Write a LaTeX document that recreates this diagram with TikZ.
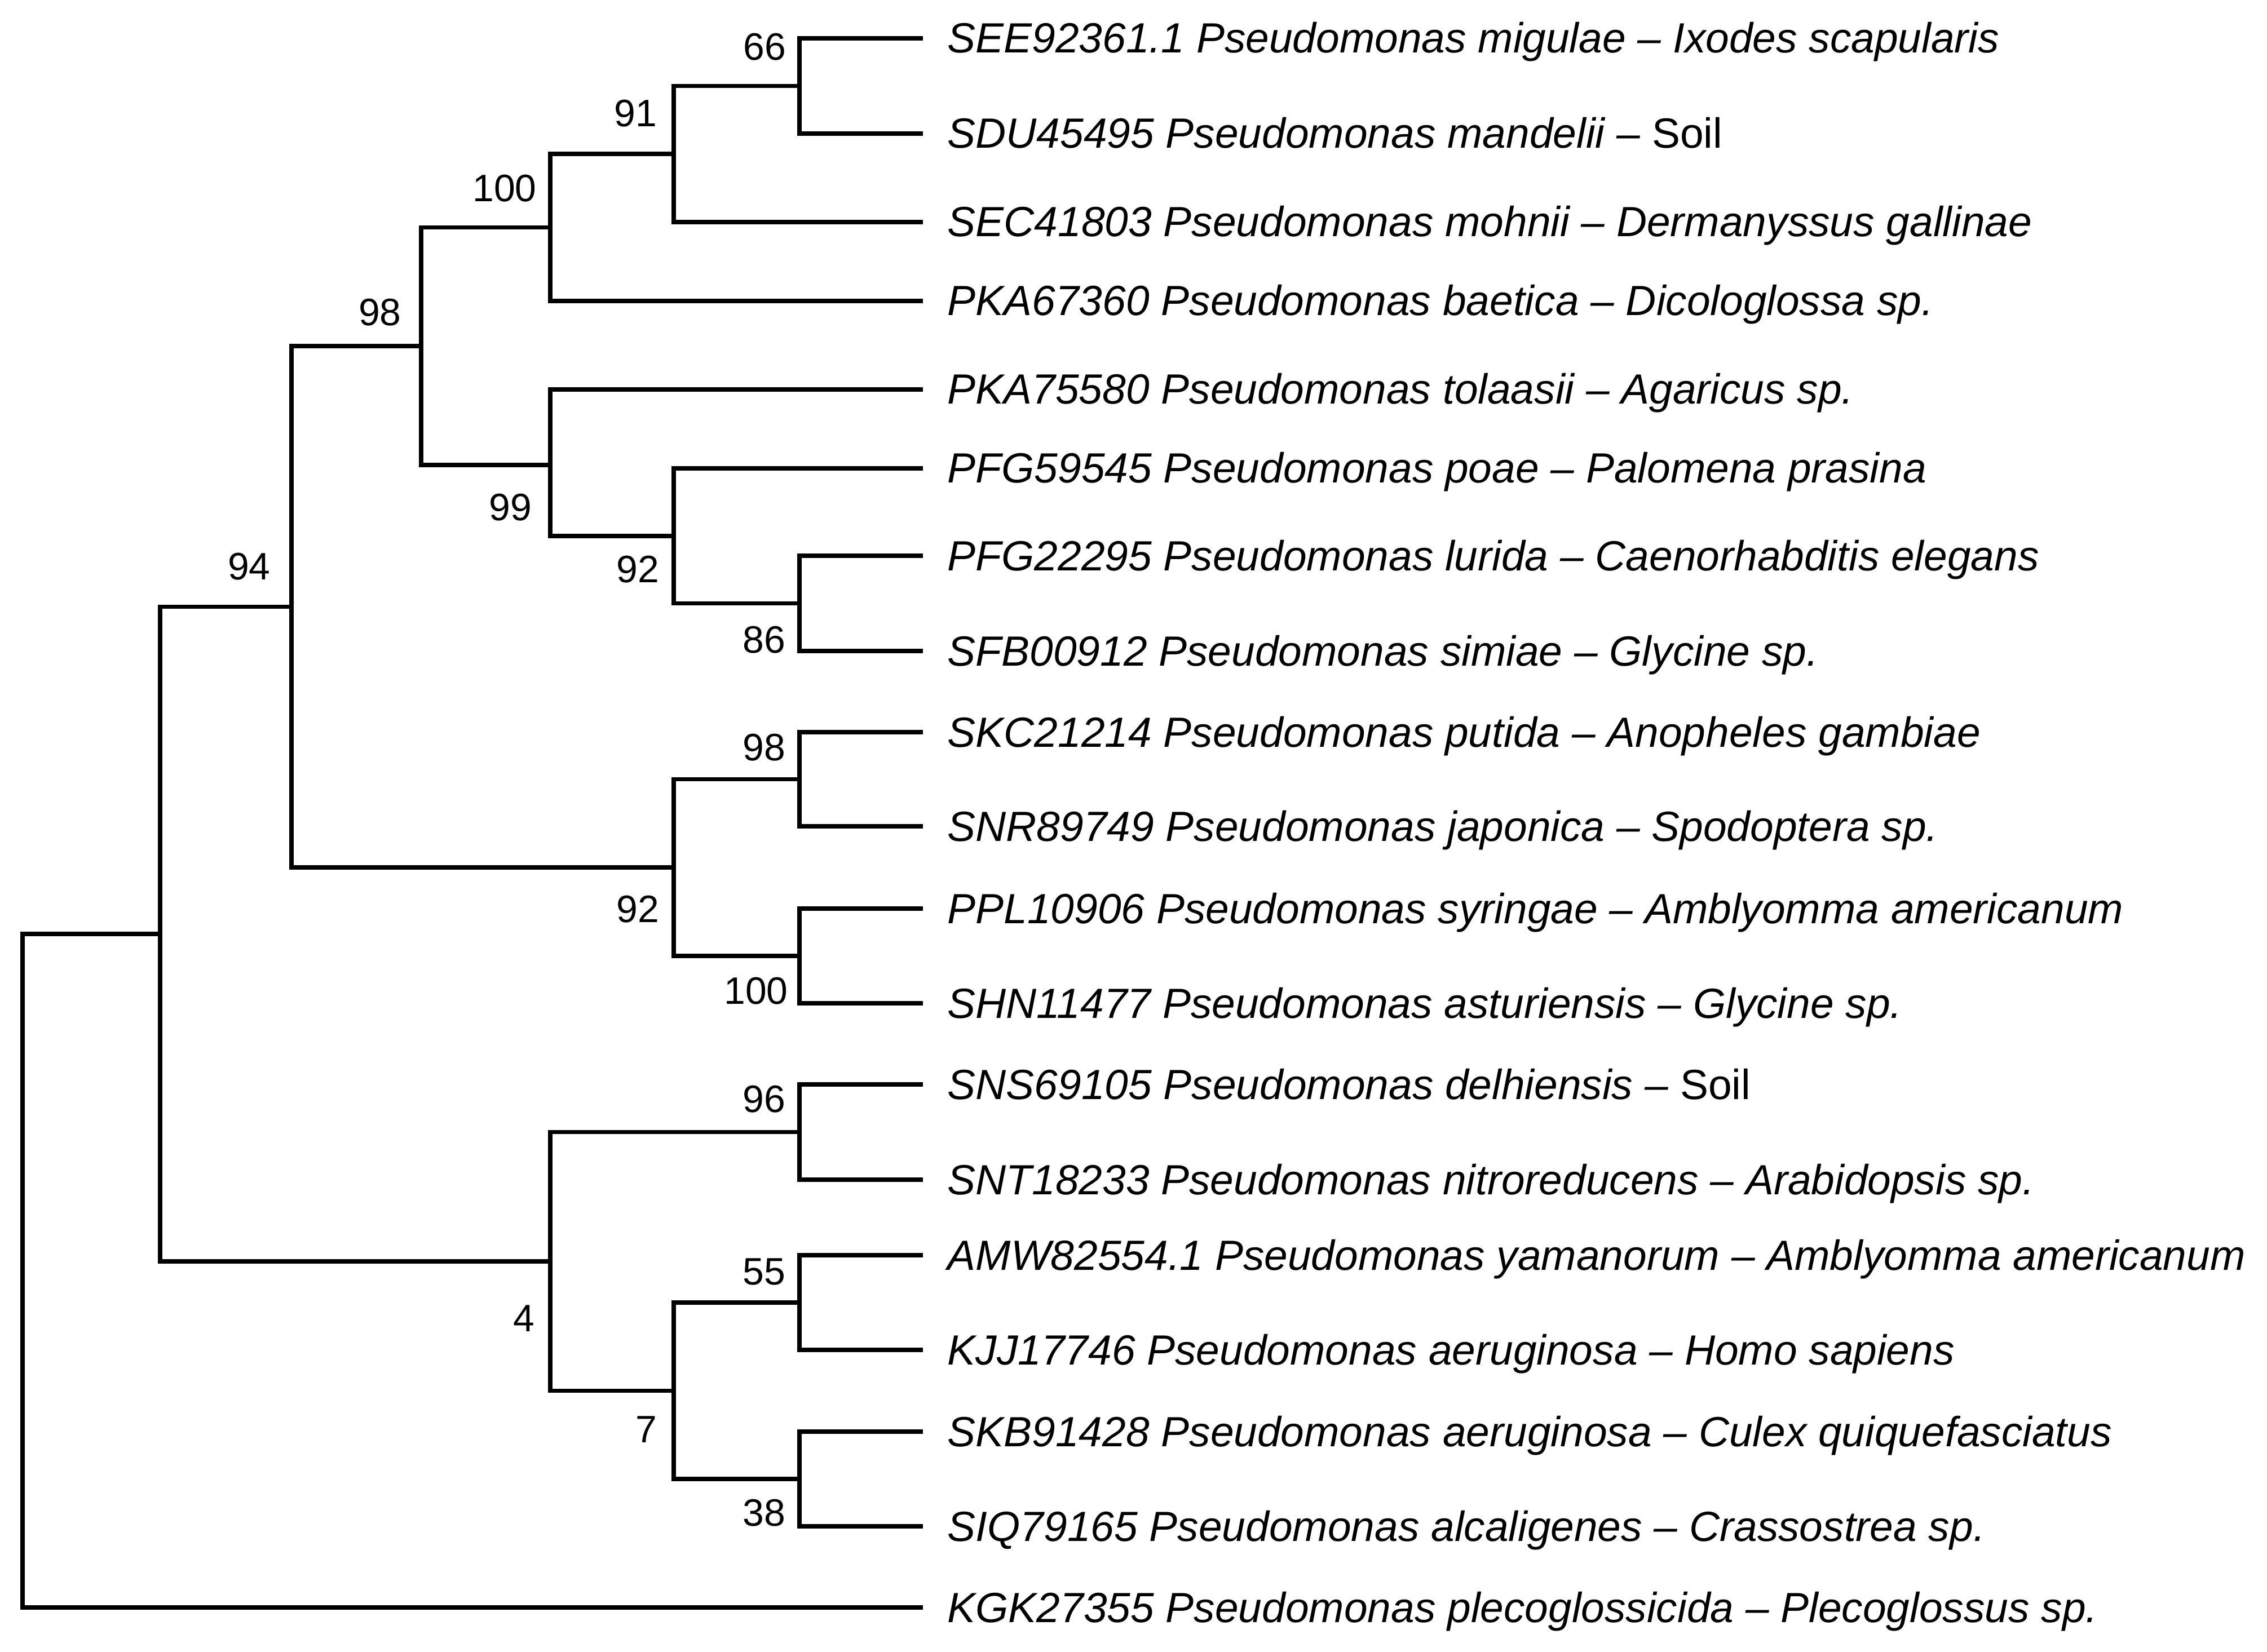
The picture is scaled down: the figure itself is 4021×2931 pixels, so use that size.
\documentclass[tikz,border=0pt]{standalone}
\usepackage{fontspec}
\setmainfont{Liberation Sans}
\begin{document}
\begin{tikzpicture}[x=0.01cm,y=-0.01cm,
  branch/.style={line width=2.2pt, line join=miter},
  leaf/.style={anchor=base west, inner sep=0pt, font=\fontsize{21.3}{24}\selectfont\itshape},
  boot/.style={anchor=center, inner sep=0pt, font=\fontsize{19.3}{22}\selectfont}]
\useasboundingbox (0,0) rectangle (4021,2931);
% leaf tips
\coordinate (l1) at (1637,68);
\coordinate (l2) at (1637,237);
\coordinate (l3) at (1637,394);
\coordinate (l4) at (1637,534);
\coordinate (l5) at (1637,691);
\coordinate (l6) at (1637,831);
\coordinate (l7) at (1637,986);
\coordinate (l8) at (1637,1155);
\coordinate (l9) at (1637,1299);
\coordinate (l10) at (1637,1466);
\coordinate (l11) at (1637,1612);
\coordinate (l12) at (1637,1780);
\coordinate (l13) at (1637,1924);
\coordinate (l14) at (1637,2093);
\coordinate (l15) at (1637,2227);
\coordinate (l16) at (1637,2395);
\coordinate (l17) at (1637,2540);
\coordinate (l18) at (1637,2708);
\coordinate (l19) at (1637,2852);
% internal nodes
\coordinate (root) at (40,2254.5);
\coordinate (A) at (284,1657);
\coordinate (B) at (517,1076.5);
\coordinate (C) at (747,614);
\coordinate (D) at (976,403.5);
\coordinate (E) at (1195,273);
\coordinate (F) at (1418,152.5);
\coordinate (G) at (976,825);
\coordinate (H) at (1195,951);
\coordinate (I) at (1418,1070.5);
\coordinate (J) at (1195,1539);
\coordinate (K) at (1418,1382.5);
\coordinate (L) at (1418,1696);
\coordinate (M) at (976,2238);
\coordinate (N) at (1418,2008.5);
\coordinate (O) at (1195,2467.5);
\coordinate (P) at (1418,2311);
\coordinate (Q) at (1418,2624);
% branches
\draw[branch] (l1) -| (F) |- (l2);
\draw[branch] (F) -| (E) |- (l3);
\draw[branch] (E) -| (D) |- (l4);
\draw[branch] (l7) -| (I) |- (l8);
\draw[branch] (l6) -| (H) |- (I);
\draw[branch] (l5) -| (G) |- (H);
\draw[branch] (D) -| (C) |- (G);
\draw[branch] (l9) -| (K) |- (l10);
\draw[branch] (l11) -| (L) |- (l12);
\draw[branch] (K) -| (J) |- (L);
\draw[branch] (C) -| (B) |- (J);
\draw[branch] (l13) -| (N) |- (l14);
\draw[branch] (l15) -| (P) |- (l16);
\draw[branch] (l17) -| (Q) |- (l18);
\draw[branch] (P) -| (O) |- (Q);
\draw[branch] (N) -| (M) |- (O);
\draw[branch] (B) -| (A) |- (M);
\draw[branch] (A) -| (root) |- (l19);
% bootstrap values
\node[boot] (bF) at (1356,83) {66};
\node[boot] (bE) at (1127,201) {91};
\node[boot] (bD) at (895,334) {100};
\node[boot] (bC) at (674,554) {98};
\node[boot] (bB) at (442,1005) {94};
\node[boot] (bG) at (905,900) {99};
\node[boot] (bH) at (1131,1010) {92};
\node[boot] (bI) at (1355,1135) {86};
\node[boot] (bK) at (1355,1326) {98};
\node[boot] (bJ) at (1131,1613) {92};
\node[boot] (bL) at (1341,1758) {100};
\node[boot] (bN) at (1355,1950) {96};
\node[boot] (bM) at (929,2339) {4};
\node[boot] (bO) at (1146,2536) {7};
\node[boot] (bP) at (1355,2256) {55};
\node[boot] (bQ) at (1355,2684) {38};
% leaf labels
\node[leaf] (t1) at (1680,94) {SEE92361.1 Pseudomonas migulae – Ixodes scapularis};
\node[leaf] (t2) at (1680,263) {SDU45495 Pseudomonas mandelii – \textup{Soil}};
\node[leaf] (t3) at (1680,420) {SEC41803 Pseudomonas mohnii – Dermanyssus gallinae};
\node[leaf] (t4) at (1680,560) {PKA67360 Pseudomonas baetica – Dicologlossa sp.};
\node[leaf] (t5) at (1680,717) {PKA75580 Pseudomonas tolaasii – Agaricus sp.};
\node[leaf] (t6) at (1680,857) {PFG59545 Pseudomonas poae – Palomena prasina};
\node[leaf] (t7) at (1680,1012) {PFG22295 Pseudomonas lurida – Caenorhabditis elegans};
\node[leaf] (t8) at (1680,1181) {SFB00912 Pseudomonas simiae – Glycine sp.};
\node[leaf] (t9) at (1680,1325) {SKC21214 Pseudomonas putida – Anopheles gambiae};
\node[leaf] (t10) at (1680,1492) {SNR89749 Pseudomonas japonica – Spodoptera sp.};
\node[leaf] (t11) at (1680,1638) {PPL10906 Pseudomonas syringae – Amblyomma americanum};
\node[leaf] (t12) at (1680,1806) {SHN11477 Pseudomonas asturiensis – Glycine sp.};
\node[leaf] (t13) at (1680,1950) {SNS69105 Pseudomonas delhiensis – \textup{Soil}};
\node[leaf] (t14) at (1680,2119) {SNT18233 Pseudomonas nitroreducens – Arabidopsis sp.};
\node[leaf] (t15) at (1680,2253) {AMW82554.1 Pseudomonas yamanorum – Amblyomma americanum};
\node[leaf] (t16) at (1680,2421) {KJJ17746 Pseudomonas aeruginosa – Homo sapiens};
\node[leaf] (t17) at (1680,2566) {SKB91428 Pseudomonas aeruginosa – Culex quiquefasciatus};
\node[leaf] (t18) at (1680,2734) {SIQ79165 Pseudomonas alcaligenes – Crassostrea sp.};
\node[leaf] (t19) at (1680,2878) {KGK27355 Pseudomonas plecoglossicida – Plecoglossus sp.};
\end{tikzpicture}
\end{document}
